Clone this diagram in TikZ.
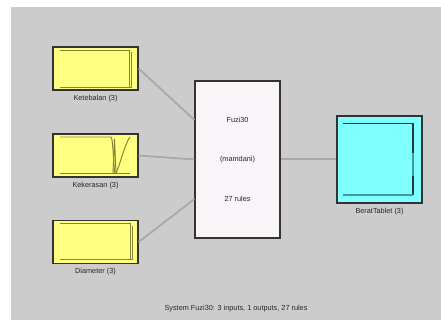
\documentclass[tikz,border=0pt]{standalone}
\usepackage{fontspec}
\setmainfont{Liberation Sans}
\usetikzlibrary{positioning,calc}
\definecolor{bggrey}{HTML}{CCCCCC}
\definecolor{linkgrey}{HTML}{A9A9A9}
\definecolor{inyellow}{HTML}{FFFF80}
\definecolor{outcyan}{HTML}{80FFFF}
\definecolor{fiswhite}{HTML}{F8F4F8}
\definecolor{mfolive}{HTML}{85853A}
\definecolor{mfdark}{HTML}{1E3C3C}
\definecolor{mfteal}{HTML}{3C9C9C}
\tikzset{
  varbox/.style={draw=black!80,line width=0.9pt,minimum width=21.25mm,inner sep=0pt},
  inbox/.style={varbox,fill=inyellow,minimum height=10.75mm},
  outbox/.style={varbox,fill=outcyan,minimum height=21.75mm},
  fisbox/.style={varbox,fill=fiswhite,minimum height=39.25mm},
  lbl/.style={font=\fontsize{5.2}{6}\selectfont,inner sep=0pt,text=black!85},
  link/.style={draw=linkgrey,line width=1.3pt},
  mf/.style={draw=mfolive,line width=0.7pt},
}
\begin{document}
\begin{tikzpicture}[x=0.25mm,y=-0.25mm]
\useasboundingbox (0,0) rectangle (441,320);
\fill[bggrey] (11,7) rectangle (441,320);

\draw 	(237.5,159.5) node[fisbox](fis){};
\node[lbl] (fisname) at ($(fis.north)!0.25!(fis.south)$) {Fuzi30};
\node[lbl] (fistype) at ($(fis.north)!0.5!(fis.south)$) {(mamdani)};
\node[lbl] (fisrules) at ($(fis.north)!0.75!(fis.south)$) {27 rules};

\draw 	(95.5,68.5) node[inbox](in1){}  (95.5,155.5) node[inbox](in2){}
		(95.5,242) node[inbox](in3){}  (379.5,159.5) node[outbox](out1){};

\node[lbl,below=3pt of in1] (l1) {Ketebalan (3)};
\node[lbl,below=3pt of in2] (l2) {Kekerasan (3)};
\node[lbl,below=3pt of in3] (l3) {Diameter (3)};
\node[lbl,below=3pt of out1] (l4) {BeratTablet (3)};

\draw[link] (in1.east) -- ($(fis.north west)!0.25!(fis.south west)$);
\draw[link] (in2.east) -- ($(fis.north west)!0.5!(fis.south west)$);
\draw[link] (in3.east) -- ($(fis.north west)!0.75!(fis.south west)$);
\draw[link] ([yshift=0.2pt]fis.east) -- ([yshift=0.2pt]out1.west);

\draw[mf] (60,50) -- (129,50) -- (129,87);
\draw[mf] (60,87) -- (131,87) -- (131,52);
\draw[mf] (60,137) -- (111,137) .. controls (113,137) and (114,173) .. (115,173);
\draw[mf] (113,173) -- (114.5,139) -- (116,173);
\draw[mf] (116,173) .. controls (119,168) and (125,143) .. (130,137);
\draw[mf] (60,173) -- (130,173);
\draw[mf] (60,223) -- (130,223) -- (130,259);
\draw[mf] (60,259) -- (132,259) -- (132,226);

\draw[draw=mfdark,line width=0.6pt] (343,123) -- (413,123);
\draw[draw=mfdark,line width=1.1pt] (413,123) -- (413,153);
\draw[draw=mfteal,line width=1.1pt] (413,153) -- (413,176);
\draw[draw=mfdark,line width=1.1pt] (413,176) -- (413,195);
\draw[draw=mfteal,line width=1.1pt] (343,195) -- (413,195);

\node[lbl] (caption) at (236,309) {System Fuzi30: 3 inputs, 1 outputs, 27 rules};
\end{tikzpicture}
\end{document}
